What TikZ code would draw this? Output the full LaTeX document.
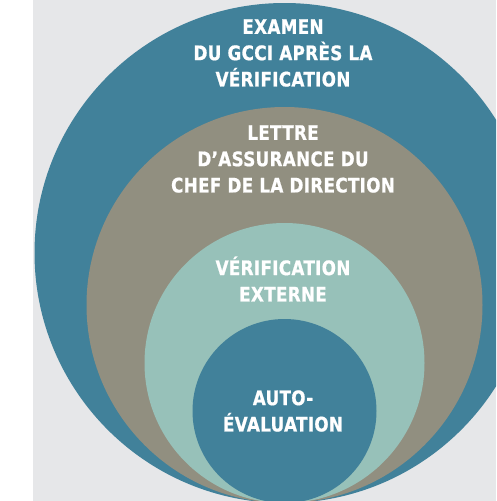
\documentclass[tikz,border=0pt]{standalone}
\usepackage{fontspec}
\setmainfont{DejaVu Sans}[BoldFont={DejaVu Sans Bold}, BoldFeatures={FakeBold=0.8}, FakeStretch=0.84, LetterSpace=1.5]
\definecolor{bgc}{HTML}{E6E7E9}
\definecolor{tealc}{HTML}{41819A}
\definecolor{grayc}{HTML}{918F80}
\definecolor{lightc}{HTML}{97C1B9}
\tikzset{
  ring/.style={circle, inner sep=0pt, draw=none},
  lbl/.style={text=white, font=\bfseries\fontsize{20}{26.3}\selectfont, align=center, inner sep=0pt}
}
\begin{document}
\begin{tikzpicture}[x=1pt,y=-1pt]
\useasboundingbox (0,0) rectangle (496,501);
\fill[white] (0,0) rectangle (496,501);
\fill[bgc] (33,0) rectangle (496,501);
\begin{scope}
\clip (0,0) rectangle (496,501);
\node[ring, fill=tealc, minimum size=500pt] (c1) at (284.5,253) {};
\node[ring, fill=grayc, minimum size=396pt] (c2) at (284.5,305) {};
\node[ring, fill=lightc, minimum size=280pt] (c3) at (284.5,363) {};
\node[ring, fill=tealc, minimum size=184pt] (c4) at (284.5,411) {};
\end{scope}
\node[lbl] (t1) at (283,53) {EXAMEN\\DU GCCI APRÈS LA\\VÉRIFICATION};
\node[lbl] (t2) at (283,159) {LETTRE\\D’ASSURANCE DU\\CHEF DE LA DIRECTION};
\node[lbl] (t3) at (283,279) {VÉRIFICATION\\EXTERNE};
\node[lbl] (t4) at (283,411) {AUTO-\\ÉVALUATION};
\end{tikzpicture}
\end{document}
